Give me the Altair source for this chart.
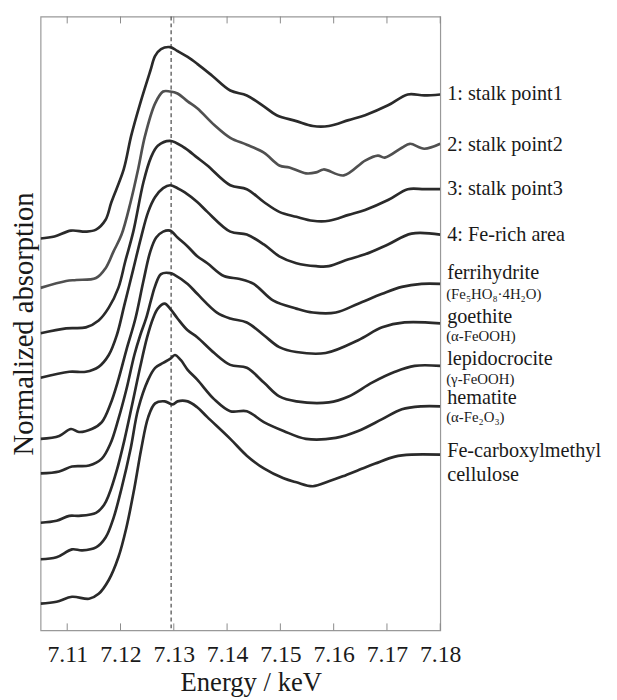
import altair as alt
import pandas as pd

# ---- data (energy in keV, stacked normalized absorption) ----
names = ["1: stalk point1", "2: stalk point2", "3: stalk point3", "4: Fe-rich area",
         "ferrihydrite", "goethite", "lepidocrocite", "hematite", "Fe-carboxylmethyl cellulose"]

E1 = [7.1050, 7.1076, 7.1107, 7.1135, 7.1154, 7.1172, 7.1183, 7.1206, 7.1220, 7.1237, 7.1256, 7.1265,
      7.1276, 7.1293, 7.1307, 7.1326, 7.1344, 7.1372, 7.1406, 7.1437, 7.1469, 7.1493, 7.1530, 7.1561,
      7.1591, 7.1628, 7.1659, 7.1702, 7.1739, 7.1770, 7.1800]
A1 = [3.97, 3.99, 4.05, 4.04, 4.06, 4.16, 4.34, 4.67, 5.01, 5.34, 5.67, 5.82,
      5.89, 5.91, 5.87, 5.81, 5.74, 5.62, 5.47, 5.42, 5.31, 5.22, 5.16, 5.11,
      5.11, 5.17, 5.22, 5.32, 5.43, 5.42, 5.43]

E2 = [7.1050, 7.1098, 7.1117, 7.1154, 7.1172, 7.1187, 7.1202, 7.1219, 7.1233, 7.1246, 7.1265, 7.1280,
      7.1293, 7.1307, 7.1326, 7.1344, 7.1376, 7.1406, 7.1437, 7.1469, 7.1498, 7.1517, 7.1548, 7.1567,
      7.1581, 7.1619, 7.1659, 7.1683, 7.1696, 7.1728, 7.1743, 7.1770, 7.1800]
A2 = [3.47, 3.54, 3.55, 3.57, 3.67, 3.84, 4.01, 4.34, 4.67, 5.01, 5.34, 5.46,
      5.46, 5.44, 5.36, 5.29, 5.12, 4.99, 4.92, 4.84, 4.71, 4.69, 4.63, 4.64,
      4.67, 4.61, 4.76, 4.81, 4.79, 4.89, 4.93, 4.88, 4.93]

E3 = [7.1050, 7.1098, 7.1135, 7.1159, 7.1178, 7.1196, 7.1209, 7.1224, 7.1243, 7.1257, 7.1270, 7.1293,
      7.1320, 7.1344, 7.1363, 7.1406, 7.1437, 7.1469, 7.1498, 7.1530, 7.1561, 7.1591, 7.1628, 7.1659,
      7.1702, 7.1739, 7.1770, 7.1800]
A3 = [3.01, 3.06, 3.07, 3.14, 3.27, 3.47, 3.74, 4.04, 4.54, 4.79, 4.91, 4.96,
      4.89, 4.79, 4.71, 4.51, 4.47, 4.34, 4.24, 4.19, 4.15, 4.15, 4.21, 4.26,
      4.36, 4.47, 4.47, 4.47]

E4 = [7.1050, 7.1104, 7.1135, 7.1159, 7.1178, 7.1193, 7.1207, 7.1224, 7.1239, 7.1252, 7.1265, 7.1280,
      7.1293, 7.1307, 7.1320, 7.1344, 7.1363, 7.1406, 7.1437, 7.1469, 7.1498, 7.1530, 7.1567, 7.1591,
      7.1628, 7.1659, 7.1702, 7.1746, 7.1800]
A4 = [2.56, 2.62, 2.62, 2.67, 2.79, 2.99, 3.29, 3.66, 3.99, 4.24, 4.39, 4.48,
      4.51, 4.48, 4.44, 4.34, 4.24, 4.04, 4.01, 3.91, 3.79, 3.72, 3.69, 3.69,
      3.76, 3.81, 3.91, 4.02, 4.01]

E5 = [7.1050, 7.1085, 7.1107, 7.1122, 7.1146, 7.1165, 7.1181, 7.1196, 7.1211, 7.1228, 7.1243, 7.1256,
      7.1267, 7.1280, 7.1293, 7.1307, 7.1326, 7.1344, 7.1363, 7.1394, 7.1424, 7.1450, 7.1487, 7.1530,
      7.1561, 7.1604, 7.1646, 7.1691, 7.1728, 7.1765, 7.1800]
A5 = [1.94, 1.97, 2.04, 2.01, 2.04, 2.11, 2.29, 2.54, 2.84, 3.16, 3.54, 3.84,
      3.98, 4.04, 4.05, 3.98, 3.89, 3.79, 3.72, 3.59, 3.56, 3.51, 3.34, 3.26,
      3.22, 3.22, 3.31, 3.41, 3.48, 3.51, 3.51]

E6 = [7.1050, 7.1085, 7.1109, 7.1141, 7.1165, 7.1181, 7.1196, 7.1211, 7.1226, 7.1237, 7.1248, 7.1257,
      7.1265, 7.1276, 7.1293, 7.1302, 7.1326, 7.1344, 7.1381, 7.1406, 7.1437, 7.1469, 7.1498, 7.1530,
      7.1585, 7.1646, 7.1691, 7.1733, 7.1800]
A6 = [1.59, 1.61, 1.66, 1.67, 1.74, 1.89, 2.14, 2.44, 2.79, 2.99, 3.16, 3.34,
      3.49, 3.61, 3.62, 3.60, 3.51, 3.41, 3.22, 3.16, 3.12, 2.99, 2.87, 2.82,
      2.81, 2.94, 3.07, 3.12, 3.11]

E7 = [7.1050, 7.1080, 7.1104, 7.1122, 7.1154, 7.1169, 7.1178, 7.1193, 7.1207, 7.1222, 7.1237, 7.1250,
      7.1261, 7.1270, 7.1283, 7.1293, 7.1307, 7.1326, 7.1344, 7.1376, 7.1406, 7.1437, 7.1469, 7.1498,
      7.1530, 7.1591, 7.1628, 7.1672, 7.1715, 7.1752, 7.1800]
A7 = [1.09, 1.11, 1.16, 1.16, 1.19, 1.27, 1.37, 1.62, 1.92, 2.29, 2.67, 2.97,
      3.16, 3.26, 3.31, 3.26, 3.16, 3.04, 2.97, 2.81, 2.69, 2.66, 2.51, 2.37,
      2.32, 2.31, 2.37, 2.51, 2.62, 2.68, 2.68]

E8 = [7.1050, 7.1080, 7.1109, 7.1128, 7.1154, 7.1172, 7.1187, 7.1202, 7.1219, 7.1233, 7.1252, 7.1265,
      7.1280, 7.1293, 7.1302, 7.1313, 7.1326, 7.1344, 7.1376, 7.1406, 7.1437, 7.1469, 7.1506, 7.1548,
      7.1604, 7.1646, 7.1691, 7.1728, 7.1765, 7.1800]
A8 = [0.72, 0.74, 0.82, 0.81, 0.84, 0.94, 1.14, 1.44, 1.84, 2.24, 2.54, 2.66,
      2.71, 2.75, 2.79, 2.74, 2.64, 2.54, 2.34, 2.22, 2.22, 2.11, 2.02, 1.94,
      1.95, 2.02, 2.14, 2.24, 2.27, 2.27]

E9 = [7.1050, 7.1080, 7.1109, 7.1141, 7.1159, 7.1178, 7.1196, 7.1211, 7.1226, 7.1239, 7.1252, 7.1265,
      7.1283, 7.1298, 7.1307, 7.1326, 7.1344, 7.1363, 7.1406, 7.1437, 7.1469, 7.1506, 7.1530, 7.1561,
      7.1591, 7.1617, 7.1654, 7.1678, 7.1715, 7.1746, 7.1800]
A9 = [0.27, 0.29, 0.34, 0.32, 0.37, 0.51, 0.74, 1.04, 1.44, 1.84, 2.16, 2.30,
      2.32, 2.29, 2.32, 2.32, 2.26, 2.16, 1.94, 1.77, 1.64, 1.54, 1.50, 1.46,
      1.51, 1.56, 1.64, 1.69, 1.76, 1.78, 1.78]

series_colors = ["#2a2a2a", "#505050", "#2a2a2a", "#2a2a2a", "#2a2a2a",
                 "#2a2a2a", "#2a2a2a", "#2a2a2a", "#2a2a2a"]

tick_values = [7.11, 7.12, 7.13, 7.14, 7.15, 7.16, 7.17, 7.18]
edge_energy = [7.1295]

label_text = ["1: stalk point1", "2: stalk point2", "3: stalk point3", "4: Fe-rich area",
              "ferrihydrite", "goethite", "lepidocrocite", "hematite",
              "Fe-carboxylmethyl", "cellulose"]
label_y = [5.43, 4.92, 4.47, 4.01, 3.62, 3.17, 2.75, 2.35, 1.82, 1.57]

formula_text = ["(Fe\u2085HO\u2088\u00b74H\u2082O)", "(\u03b1-FeOOH)", "(\u03b3-FeOOH)", "(\u03b1-Fe\u2082O\u2083)"]
formula_y = [3.41, 2.98, 2.55, 2.16]

X_DOMAIN = [7.105, 7.18]
Y_DOMAIN = [0, 6.22]
FONT = "Liberation Serif, Times New Roman, Times, DejaVu Serif, serif"

# ---- build tables ----
rows = []
for name, E, A in zip(names, [E1, E2, E3, E4, E5, E6, E7, E8, E9],
                      [A1, A2, A3, A4, A5, A6, A7, A8, A9]):
    for e, a in zip(E, A):
        rows.append({"series": name, "energy": e, "absorption": a})
df = pd.DataFrame(rows)

labels_df = pd.DataFrame({"text": label_text, "y": label_y,
                          "x": [X_DOMAIN[1]] * len(label_text)})
formula_df = pd.DataFrame({"text": formula_text, "y": formula_y,
                           "x": [X_DOMAIN[1]] * len(formula_text)})
ticks_df = pd.DataFrame({"t": tick_values})
edge_df = pd.DataFrame({"e": edge_energy})

xscale = alt.Scale(domain=X_DOMAIN, nice=False, zero=False)
yscale = alt.Scale(domain=Y_DOMAIN, nice=False, zero=False)

lines = alt.Chart(df).mark_line(strokeWidth=2.7, interpolate="catmull-rom", clip=True).encode(
    x=alt.X("energy:Q", scale=xscale,
            axis=alt.Axis(title="Energy / keV", values=tick_values, format=".2f",
                          grid=False, ticks=False, domain=False, tickSize=0,
                          labelFont=FONT, labelFontSize=24, labelColor="#1a1a1a",
                          labelPadding=13, labelFlush=False,
                          titleFont=FONT, titleFontSize=27, titleFontWeight="normal",
                          titleColor="#1a1a1a", titlePadding=3, titleX=213)),
    y=alt.Y("absorption:Q", scale=yscale,
            axis=alt.Axis(title="Normalized absorption", labels=False, ticks=False,
                          domain=False, grid=False, tickSize=0,
                          titleFont=FONT, titleFontSize=29, titleFontWeight="normal",
                          titleColor="#1a1a1a", titlePadding=2)),
    color=alt.Color("series:N", scale=alt.Scale(domain=names, range=series_colors), legend=None),
    detail="series:N",
)

edge = alt.Chart(edge_df).mark_rule(color="#555555", strokeWidth=1.3, strokeDash=[4, 3]).encode(
    x=alt.X("e:Q", scale=xscale)
)

ticks_bottom = alt.Chart(ticks_df).mark_rule(color="#8a8a8a", strokeWidth=1).encode(
    x=alt.X("t:Q", scale=xscale), y=alt.value(622), y2=alt.value(615)
)
ticks_top = alt.Chart(ticks_df).mark_rule(color="#8a8a8a", strokeWidth=1).encode(
    x=alt.X("t:Q", scale=xscale), y=alt.value(0), y2=alt.value(7)
)

labels = alt.Chart(labels_df).mark_text(
    align="left", baseline="middle", font=FONT, fontSize=20.5, color="#1a1a1a", dx=7
).encode(
    x=alt.X("x:Q", scale=xscale), y=alt.Y("y:Q", scale=yscale), text="text:N"
)

formulas = alt.Chart(formula_df).mark_text(
    align="left", baseline="middle", font=FONT, fontSize=15, color="#1a1a1a", dx=6
).encode(
    x=alt.X("x:Q", scale=xscale), y=alt.Y("y:Q", scale=yscale), text="text:N"
)

chart = alt.layer(edge, lines, ticks_bottom, ticks_top, labels, formulas).properties(
    width=405, height=622,
    autosize=alt.AutoSizeParams(type="none"),
    padding={"left": 33, "top": 4, "right": 171, "bottom": 66},
).configure_view(stroke="#999999", strokeWidth=1.2)

chart.save("out.html", embed_options={"renderer": "svg", "actions": False})
